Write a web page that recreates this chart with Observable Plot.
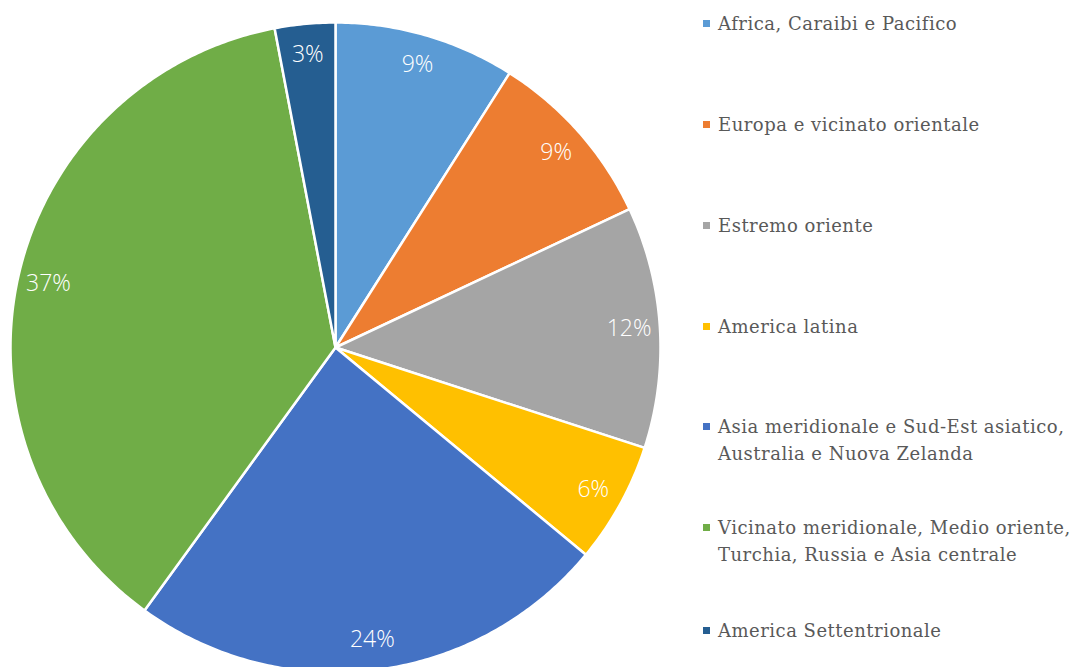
<!DOCTYPE html>
<html>
<head>
<meta charset="utf-8">
<script src="https://cdn.jsdelivr.net/npm/d3@7"></script>
<script src="https://cdn.jsdelivr.net/npm/@observablehq/plot@0.6"></script>
<style>
  html, body { margin: 0; padding: 0; background: #fff; }
  #wrap { position: relative; width: 1079px; height: 667px; overflow: hidden; }
  #legend { position: absolute; left: 703px; top: 0; font-family: "DejaVu Serif", serif; font-size: 18px; letter-spacing: 0.5px; color: #595959; }
  .item { position: absolute; left: 0; white-space: nowrap; line-height: 27px; }
  .sw { position: absolute; left: 0; top: 10px; width: 7px; height: 7px; }
  .lbl { position: absolute; left: 15px; top: 0; }
</style>
</head>
<body>
<div id="wrap"><div id="chart"></div><div id="legend"></div></div>
<script>
const categories = [
  "Africa, Caraibi e Pacifico",
  "Europa e vicinato orientale",
  "Estremo oriente",
  "America latina",
  "Asia meridionale e Sud-Est asiatico, Australia e Nuova Zelanda",
  "Vicinato meridionale, Medio oriente, Turchia, Russia e Asia centrale",
  "America Settentrionale"
];
const legendLines = [
  ["Africa, Caraibi e Pacifico"],
  ["Europa e vicinato orientale"],
  ["Estremo oriente"],
  ["America latina"],
  ["Asia meridionale e Sud-Est asiatico,", "Australia e Nuova Zelanda"],
  ["Vicinato meridionale, Medio oriente,", "Turchia, Russia e Asia centrale"],
  ["America Settentrionale"]
];
const values = [9, 9, 12, 6, 24, 37, 3];
const labels = ["9%", "9%", "12%", "6%", "24%", "37%", "3%"];
const colors = ["#5B9BD5", "#ED7D31", "#A5A5A5", "#FFC000", "#4472C4", "#70AD47", "#255E91"];
const legendTops = [10, 111, 212, 313, 413, 514, 617];

const total = d3.sum(values);
const polys = [];
const labelPts = [];
let acc = 0;
values.forEach((v, i) => {
  const a0 = acc / total * 2 * Math.PI;
  const a1 = (acc + v) / total * 2 * Math.PI;
  const n = Math.max(8, Math.ceil((a1 - a0) / 0.01));
  polys.push({cat: categories[i], x: 0, y: 0, k: 0});
  for (let j = 0; j <= n; j++) {
    const a = a0 + (a1 - a0) * j / n;
    polys.push({cat: categories[i], x: Math.sin(a), y: Math.cos(a), k: j + 1});
  }
  polys.push({cat: categories[i], x: 0, y: 0, k: n + 2});
  const am = (a0 + a1) / 2;
  labelPts.push({cat: categories[i], label: labels[i], x: 0.905 * Math.sin(am), y: 0.905 * Math.cos(am)});
  acc += v;
});

const chart = Plot.plot({
  width: 1079,
  height: 667,
  marginLeft: 10,
  marginRight: 419,
  marginTop: 22,
  marginBottom: 0,
  x: {domain: [-1, 1], axis: null},
  y: {domain: [-0.9846, 1], axis: null},
  color: {domain: categories, range: colors},
  style: {background: "#fff", overflow: "visible"},
  marks: [
    Plot.line(polys, {x: "x", y: "y", z: "cat", fill: "cat", stroke: "#fff", strokeWidth: 2.5, strokeLinejoin: "round", curve: "linear"}),
    Plot.text(labelPts, {x: "x", y: "y", text: "label", fill: "#fff", fontSize: 23, fontWeight: 300, fontFamily: "'Open Sans', Lato, sans-serif"})
  ]
});
document.getElementById("chart").appendChild(chart);

const legend = document.getElementById("legend");
categories.forEach((c, i) => {
  const item = document.createElement("div");
  item.className = "item";
  item.style.top = legendTops[i] + "px";
  const sw = document.createElement("div");
  sw.className = "sw";
  sw.style.background = colors[i];
  const lbl = document.createElement("div");
  lbl.className = "lbl";
  lbl.innerHTML = legendLines[i].join("<br>");
  item.appendChild(sw);
  item.appendChild(lbl);
  legend.appendChild(item);
});
</script>
</body>
</html>
